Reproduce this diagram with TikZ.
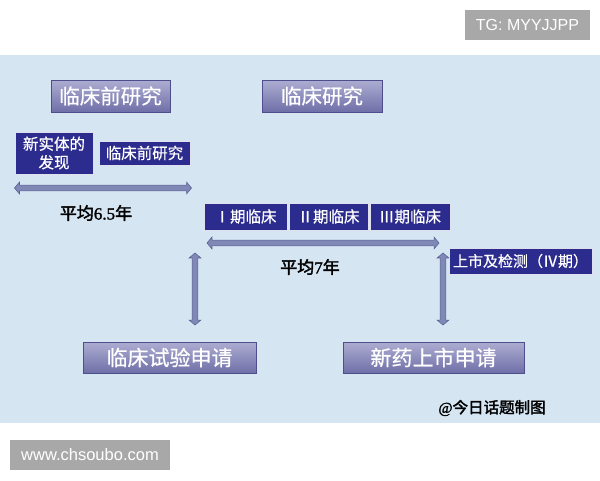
\documentclass[tikz,border=0pt]{standalone}
\usepackage{fontspec}
\setmainfont{Liberation Sans}
\newfontfamily\cjk{Noto Sans CJK SC}[FakeBold=0.6]
\newfontfamily\cjkbold{Noto Sans CJK SC}[FakeBold=2.2]
\newfontfamily\serifb{Liberation Serif}[FakeBold=1.5]
\usetikzlibrary{shapes.arrows,shadings}
\definecolor{bgblue}{HTML}{D5E5F2}
\definecolor{navy}{HTML}{2C2C8E}
\definecolor{lav1}{HTML}{ADADD2}
\definecolor{lav2}{HTML}{6F6FA8}
\definecolor{lavedge}{HTML}{4E4E8C}
\definecolor{arrfill}{HTML}{8088B6}
\definecolor{arredge}{HTML}{5A6295}
\definecolor{badge}{HTML}{A8A8A8}
\tikzset{
  bigbox/.style={draw=lavedge, line width=0.8pt, top color=lav1, bottom color=lav2,
    text=white, font=\cjk\fontsize{20.5}{22}\selectfont, inner sep=0pt, anchor=center},
  navybox/.style={draw=white!85!navy, line width=0.8pt, fill=navy, text=white,
    font=\cjk\fontsize{15.5}{17}\selectfont, inner sep=0pt, align=center},
  dblarrow/.style={double arrow, fill=arrfill, draw=arredge, line width=0.6pt,
    inner sep=2.6pt, double arrow head extend=3pt, double arrow tip angle=100,
    minimum width=0pt},
  yearlabel/.style={font=\cjkbold\fontsize{17}{19}\selectfont, text=black},
  badgebox/.style={fill=badge, text=white, font=\fontsize{16}{18}\selectfont, inner sep=0pt}
}
\begin{document}
\begin{tikzpicture}[x=1pt,y=-1pt]
\useasboundingbox (0,0) rectangle (600,480);
\fill[white] (0,0) rectangle (600,480);
\fill[bgblue] (0,55) rectangle (600,423);

% header boxes
\node[bigbox, minimum width=119pt, minimum height=32pt] (pre) at (110.5,96) {临床前研究};
\node[bigbox, minimum width=120pt, minimum height=32pt] (clin) at (322,96) {临床研究};

% preclinical stage
\node[navybox, minimum width=78pt, minimum height=42pt] (newent) at (54,153) {新实体的\\[1.5pt]发现};
\node[navybox, minimum width=91pt, minimum height=24pt] (presmall) at (144.5,153) {临床前研究};
\node[dblarrow, minimum height=177pt] (arr1) at (103,188) {};
\node[yearlabel] (avg65) at (96,213) {平均{\serifb 6.5}年};

% clinical phases
\node[navybox, minimum width=83pt, minimum height=27pt] (p1) at (245.5,216.5) {Ⅰ期临床};
\node[navybox, minimum width=79pt, minimum height=27pt] (p2) at (328.5,216.5) {Ⅱ期临床};
\node[navybox, minimum width=80pt, minimum height=27pt] (p3) at (410,216.5) {Ⅲ期临床};
\node[dblarrow, minimum height=232pt] (arr2) at (323,243) {};
\node[yearlabel] (avg7) at (310,267) {平均{\serifb 7}年};

% vertical arrows
\node[dblarrow, minimum height=72pt, rotate=90] (varr1) at (195,289) {};
\node[dblarrow, minimum height=72pt, rotate=90] (varr2) at (443,289) {};

\node[navybox, minimum width=143pt, minimum height=26pt, font=\cjk\fontsize{15}{17}\selectfont] (p4) at (520.5,261) {上市及检测（Ⅳ期）};

% applications
\node[bigbox, minimum width=173pt, minimum height=31pt, font=\cjk\fontsize{21}{23}\selectfont] (ind) at (169.5,357.5) {临床试验申请};
\node[bigbox, minimum width=181pt, minimum height=31pt, font=\cjk\fontsize{21}{23}\selectfont] (nda) at (433.5,357.5) {新药上市申请};

\node[font=\cjkbold\fontsize{15.5}{17}\selectfont] (credit) at (492,408) {{\serifb @}今日话题制图};

% badges
\node[badgebox, minimum width=125pt, minimum height=30pt] (tg) at (527.5,25) {TG: MYYJJPP};
\node[badgebox, minimum width=160pt, minimum height=30pt, font=\fontsize{16.5}{18}\selectfont] (www) at (90,455) {www.chsoubo.com};
\end{tikzpicture}
\end{document}
